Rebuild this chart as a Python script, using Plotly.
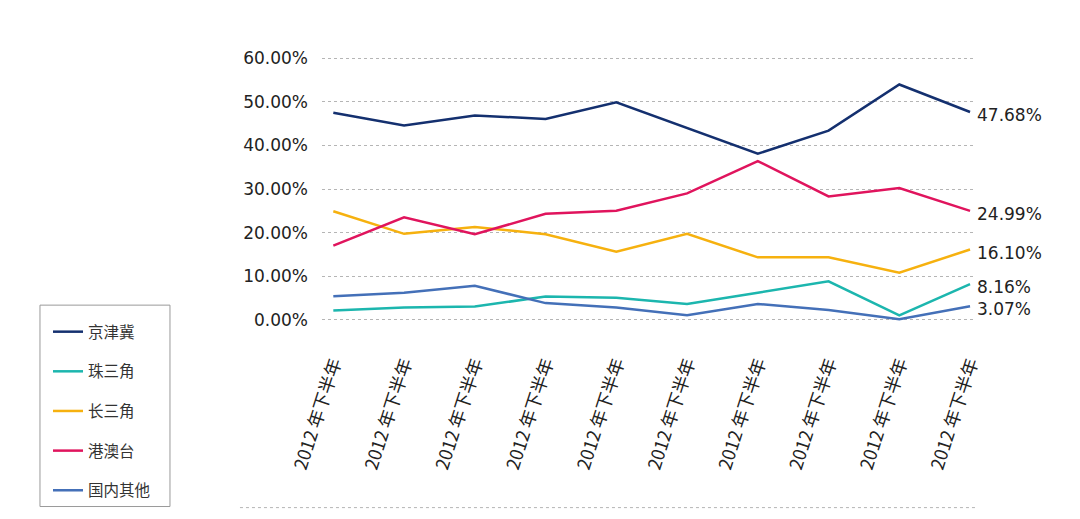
import plotly.graph_objects as go

periods = ["2012 年下半年"] * 10
series_names = ["京津冀", "珠三角", "长三角", "港澳台", "国内其他"]
jingjinji = [47.5, 44.6, 46.9, 46.1, 49.9, 44.0, 38.1, 43.4, 54.0, 47.68]
zhusanjiao = [2.1, 2.8, 3.0, 5.3, 5.0, 3.6, 6.2, 8.8, 1.0, 8.16]
changsanjiao = [24.9, 19.7, 21.3, 19.6, 15.6, 19.7, 14.3, 14.3, 10.8, 16.10]
gangaotai = [17.0, 23.5, 19.6, 24.3, 25.0, 29.0, 36.4, 28.3, 30.2, 24.99]
guoneiqita = [5.4, 6.2, 7.8, 3.8, 2.8, 1.0, 3.6, 2.2, 0.1, 3.07]
colors = ["#14306f", "#1cb6ae", "#f6b10f", "#e0145d", "#4470b8"]
y_ticks = [0, 10, 20, 30, 40, 50, 60]
y_ticktext = ["0.00%", "10.00%", "20.00%", "30.00%", "40.00%", "50.00%", "60.00%"]

all_series = [jingjinji, zhusanjiao, changsanjiao, gangaotai, guoneiqita]
xs = list(range(len(periods)))

NUM_FONT = "DejaVu Sans, Noto Sans CJK SC"

fig = go.Figure()
annotations = []
for i, (name, vals, col) in enumerate(zip(series_names, all_series, colors)):
    fig.add_trace(go.Scatter(
        x=xs, y=vals, name=name, mode="lines",
        line=dict(color=col, width=2.5),
        legendgroup=name, hoverinfo="skip",
    ))
    annotations.append(dict(
        x=xs[-1], y=vals[-1], xref="x", yref="y",
        text=f"{vals[-1]:.2f}%", showarrow=False,
        xanchor="left", yanchor="middle", xshift=5, yshift=-3,
        font=dict(family=NUM_FONT, size=17, color="#222222"),
    ))

fig.update_layout(
    width=1072, height=511,
    margin=dict(l=314, r=105, t=46, b=193),
    paper_bgcolor="white", plot_bgcolor="white",
    font=dict(family=NUM_FONT, color="#333333"),
    showlegend=True,
    legend=dict(
        x=-0.4196, y=0.033, xanchor="left", yanchor="top",
        bgcolor="rgba(0,0,0,0)", borderwidth=0,
        font=dict(family="Noto Sans CJK SC", size=15.5, color="#333333"),
        tracegroupgap=16.5, itemwidth=30,
    ),
    xaxis=dict(
        range=[-0.16, 9.07], tickmode="array", tickvals=xs, ticktext=periods,
        tickangle=-72, showgrid=False, zeroline=False, showline=False,
        ticks="", ticklabelstandoff=24,
        tickfont=dict(family="Noto Sans CJK SC", size=18, color="#222222"),
    ),
    yaxis=dict(
        range=[-1, 61], tickmode="array", tickvals=y_ticks, ticktext=y_ticktext,
        showgrid=True, gridcolor="#b5b5b5", griddash="dot", gridwidth=1,
        zeroline=False, showline=False, ticks="", ticklabelstandoff=13,
        tickfont=dict(family=NUM_FONT, size=17, color="#222222"),
    ),
    annotations=annotations,
    shapes=[
        dict(type="line", xref="paper", yref="paper",
             x0=-0.1256, x1=1.0, y0=-0.68, y1=-0.68,
             line=dict(color="#b5b5b5", width=1, dash="dot")),
        dict(type="rect", xref="paper", yref="paper",
             x0=-0.4319, x1=-0.2328, y0=-0.676, y1=0.0699,
             line=dict(color="#9a9a9a", width=1), fillcolor="rgba(0,0,0,0)"),
    ],
)

fig.write_html("out.html")
